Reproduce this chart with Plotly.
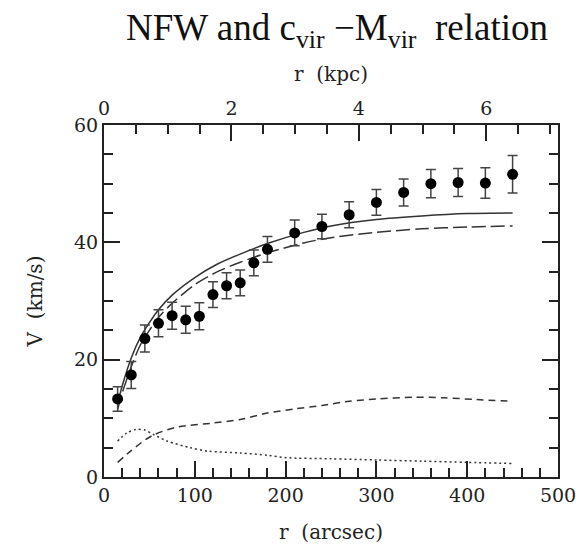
import plotly.graph_objects as go

# Observed rotation curve
r_obs = [15, 30, 45, 60, 75, 90, 105, 120, 135, 150, 165, 180, 210, 240, 270, 300, 330, 360, 390, 420, 450]
v_obs = [13.3, 17.4, 23.6, 26.2, 27.5, 26.8, 27.4, 31.1, 32.6, 33.1, 36.5, 38.8, 41.6, 42.7, 44.7, 46.8, 48.5, 50.0, 50.2, 50.1, 51.6]
v_err = [2.1, 2.3, 2.3, 2.3, 2.3, 2.3, 2.3, 2.2, 2.2, 2.2, 2.2, 2.2, 2.2, 2.1, 2.2, 2.2, 2.3, 2.4, 2.4, 2.6, 3.2]

# Model curves
r_mod = [15, 20, 30, 40, 50, 60, 75, 100, 125, 150, 180, 220, 250, 300, 350, 400, 450]
v_total1 = [12.5, 15.5, 20.3, 23.8, 26.3, 28.5, 31.0, 34.0, 36.3, 38.0, 39.8, 41.7, 42.8, 43.9, 44.5, 44.9, 45.0]
v_total2 = [11.5, 14.3, 18.8, 22.5, 25.0, 27.2, 29.6, 32.8, 35.0, 36.6, 38.2, 39.9, 40.8, 41.7, 42.3, 42.6, 42.8]

r_gas = [15, 30, 45, 55, 80, 120, 150, 180, 210, 240, 270, 300, 340, 375, 410, 450]
v_gas = [2.5, 4.5, 6.3, 7.2, 8.5, 9.2, 9.8, 10.9, 11.6, 12.2, 12.9, 13.3, 13.6, 13.5, 13.2, 12.9]

r_star = [15, 25, 35, 45, 55, 70, 95, 115, 150, 180, 200, 250, 300, 350, 400, 450]
v_star = [6.1, 7.5, 8.1, 8.0, 7.2, 6.1, 5.0, 4.4, 4.1, 3.7, 3.3, 3.1, 2.9, 2.7, 2.5, 2.3]

KPC_PER_ARCSEC = 0.01425
X_RANGE = [0, 500]
Y_RANGE = [0, 60]

tick_font = dict(family="DejaVu Serif", size=19, color="#222")
label_font = dict(family="DejaVu Serif", size=20, color="#222")
line_col = "#333"

fig = go.Figure()
fig.add_trace(go.Scatter(x=r_mod, y=v_total1, mode="lines", line=dict(color=line_col, width=1.5, shape="spline", smoothing=0.8), showlegend=False))
fig.add_trace(go.Scatter(x=r_mod, y=v_total2, mode="lines", line=dict(color=line_col, width=1.5, dash="14px,5px", shape="spline", smoothing=0.8), showlegend=False))
fig.add_trace(go.Scatter(x=r_gas, y=v_gas, mode="lines", line=dict(color=line_col, width=1.5, dash="7px,5px", shape="spline", smoothing=0.8), showlegend=False))
fig.add_trace(go.Scatter(x=r_star, y=v_star, mode="lines", line=dict(color=line_col, width=1.5, dash="2px,3px", shape="spline", smoothing=0.8), showlegend=False))
fig.add_trace(go.Scatter(
    x=r_obs, y=v_obs, mode="markers",
    marker=dict(color="black", size=11, symbol="circle"),
    error_y=dict(type="data", array=v_err, color="#444", thickness=1.5, width=5),
    showlegend=False, hoverinfo="skip"))
# same observations in kpc on the top axis (invisible, keeps the kpc axis drawn)
fig.add_trace(go.Scatter(
    x=[r * KPC_PER_ARCSEC for r in r_obs], y=v_obs, xaxis="x2", mode="markers",
    marker=dict(opacity=0), showlegend=False, hoverinfo="skip"))

axis_common = dict(showgrid=False, zeroline=False, showline=True, linecolor="#222", linewidth=2,
                   ticks="inside", ticklen=16, tickwidth=1.5, tickcolor="#222", tickfont=tick_font)
minor_common = dict(ticklen=9, ticks="inside", tickcolor="#222", tickwidth=1.5)

fig.update_layout(
    width=588, height=553,
    margin=dict(l=104, r=27, t=125, b=76),
    plot_bgcolor="white", paper_bgcolor="white",
    xaxis=dict(range=X_RANGE, dtick=100, minor=dict(dtick=20, **minor_common),
               title=dict(text="r  (arcsec)", font=label_font, standoff=20),
               **axis_common),
    xaxis2=dict(range=[X_RANGE[0] * KPC_PER_ARCSEC, X_RANGE[1] * KPC_PER_ARCSEC], overlaying="x", side="top",
                dtick=2, minor=dict(dtick=0.5, **minor_common),
                title=dict(text="r  (kpc)", font=label_font, standoff=10),
                **axis_common),
    yaxis=dict(range=Y_RANGE, dtick=20, mirror="ticks",
               minor=dict(dtick=5, **minor_common),
               title=dict(text="V  (km/s)", font=label_font, standoff=26),
               **axis_common),
    annotations=[dict(text="NFW and c<sub>vir</sub> \u2212M<sub>vir</sub>  relation", xref="paper", yref="paper",
                      x=(339 - 104) / 457, y=(477 - 31) / 352, xanchor="center", yanchor="middle", showarrow=False,
                      font=dict(family="Liberation Serif", size=37, color="#111"))],
)

fig.write_html("out.html")
